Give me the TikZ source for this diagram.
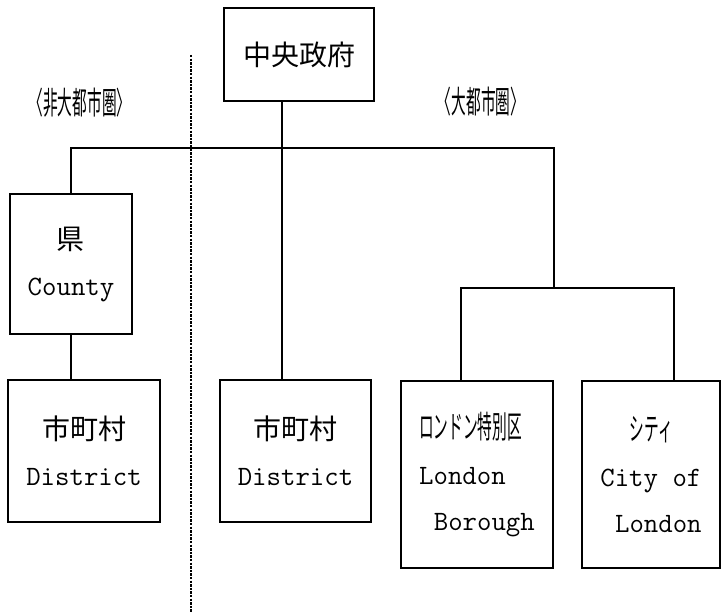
\documentclass[tikz,border=0pt]{standalone}
\usepackage{fontspec}
\newfontfamily\jp{Noto Sans CJK JP}
% half-width (condensed) Japanese
\newcommand{\hw}[1]{\scalebox{0.525}[1.12]{\jp #1}}
\newcommand{\cell}{\hspace*{7.35pt}}

\begin{document}
\begin{tikzpicture}[x=0.5pt, y=-0.5pt,
    unit/.style    = {draw, line width=0.8pt, inner sep=0pt, align=center,
                      font=\fontsize{14pt}{23pt}\selectfont\ttfamily},
    area/.style    = {inner sep=0pt, font=\fontsize{14pt}{16pt}\selectfont},
    link/.style    = {draw, line width=0.8pt},
    divider/.style = {draw, line width=0.7pt, dash pattern=on 1.2pt off 0.6pt},
  ]
  \useasboundingbox (0,0) rectangle (727,613);

  \node[unit, minimum width=75pt, minimum height=46.5pt] (gov) at (299,54.5) {{\jp 中央政府}};
  \node[area] (nonmetro) at (80,103) {\hw{〈非大都市圏〉}};
  \node[area] (metro) at (481,102) {\hw{〈大都市圏〉}};

  \node[unit, minimum width=61pt, minimum height=70pt] (county) at (71,264)
    {{\jp 県}\\County};
  \node[unit, minimum width=76pt, minimum height=71pt] (dist1) at (84,451)
    {{\jp 市町村}\\District};
  \node[unit, minimum width=75.5pt, minimum height=71pt] (dist2) at (295.5,451)
    {{\jp 市町村}\\District};
  \node[unit, align=left, minimum width=76pt, minimum height=93.5pt] (borough) at (477,474.5)
    {\hw{ロンドン特別区}\\London\\\cell Borough};
  \node[unit, align=left, minimum width=69pt, minimum height=93.5pt] (city) at (651,474.5)
    {\cell\cell\hw{シティ}\\City of\\\cell London};

  % bus and forks
  \coordinate (trunk) at (282,148);
  \coordinate (busend) at (554,148);
  \coordinate (forkl) at (461,288);
  \coordinate (forkr) at (674,288);
  \coordinate (fork) at (554,288);

  \draw[link] (gov.south -| trunk) -- (dist2.north -| trunk);
  \draw[link] (county.north) |- (busend) -- (fork);
  \draw[link] (borough.north -| forkl) -- (forkl) -- (forkr) -- (city.north -| forkr);
  \draw[link] (county.south) -- (dist1.north -| county.south);

  % boundary between the two areas
  \coordinate (divtop) at (191,55);
  \coordinate (divbot) at (191,613);
  \draw[divider] (divtop) -- (divbot);
\end{tikzpicture}
\end{document}
